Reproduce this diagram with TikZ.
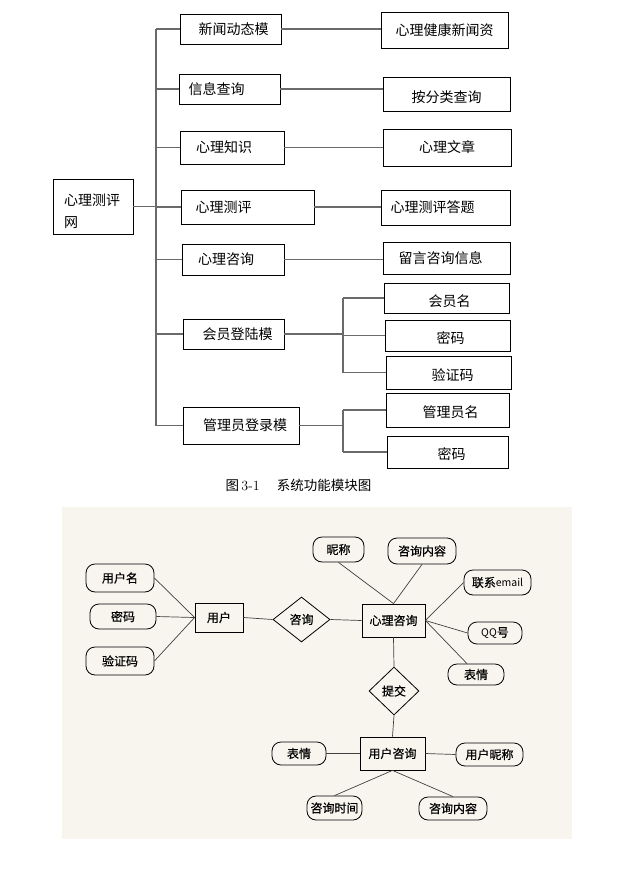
\documentclass[tikz,border=0pt]{standalone}
\usepackage{fontspec}
\newfontfamily\cjk{Noto Sans CJK SC}
\newfontfamily\cjkbold[FakeBold=0.6]{Noto Sans CJK SC}
\usepackage{xcolor}
\usepackage{tikz}
\usetikzlibrary{positioning,shapes.geometric}

\definecolor{erback}{HTML}{F8F5EE}
\definecolor{linegray}{HTML}{6A6A6A}

\tikzset{
	modbox/.style={draw, line width=0.9pt, inner sep=0pt},
	modtext/.style={font=\cjk\fontsize{14}{22}\selectfont, inner sep=0pt, align=left},
	tree/.style={draw=linegray, line width=1.2pt},
	entity/.style={draw, line width=0.8pt, inner sep=0pt, font=\cjkbold\fontsize{12}{14}\selectfont},
	attrib/.style={entity, rounded corners=9pt},
	relation/.style={entity, diamond},
	erline/.style={draw=black!75, line width=0.7pt}
}

% box with its own size, text shifted inside
\newcommand{\modnode}[7]{%
	\node[modbox, minimum width=#4, minimum height=#5,
		label={[modtext,#6]center:#7}] (#1) at (#2,#3) {};}

\begin{document}
\begin{tikzpicture}[x=1pt,y=-1pt]
	\useasboundingbox (0,0) rectangle (624,889);
	
	% module tree
	\modnode{root}{93}{206.5}{80}{55}{xshift=-1,yshift=-5}{心理测评\\网}
	\modnode{news}{230.5}{29}{101}{30}{xshift=3}{新闻动态模}
	\modnode{search}{229.5}{89}{101}{30}{xshift=-13}{信息查询}
	\modnode{know}{232}{147.5}{104}{33}{xshift=-8}{心理知识}
	\modnode{test}{247.5}{207}{133}{34}{xshift=-24}{心理测评}
	\modnode{consult}{233}{259.5}{102}{31}{xshift=-7}{心理咨询}
	\modnode{member}{233.5}{334}{101}{30}{xshift=4}{会员登陆模}
	\modnode{admin}{241}{425.5}{116}{37}{xshift=4}{管理员登录模}
	
	\modnode{newsinfo}{444.5}{30}{127}{36}{}{心理健康新闻资}
	\modnode{bytype}{446.5}{94}{127}{34}{yshift=-3}{按分类查询}
	\modnode{article}{447}{147.5}{128}{37}{}{心理文章}
	\modnode{answer}{445.5}{207.5}{129}{35}{xshift=-13}{心理测评答题}
	\modnode{message}{446.5}{258}{127}{32}{xshift=-6}{留言咨询信息}
	\modnode{mname}{446.5}{298}{125}{30}{xshift=3,yshift=-3}{会员名}
	\modnode{mpwd}{447.5}{335.5}{125}{31}{xshift=3,yshift=-3}{密码}
	\modnode{mcode}{448.5}{372.5}{125}{33}{xshift=4,yshift=-3}{验证码}
	\modnode{aname}{447.5}{410}{123}{34}{xshift=3,yshift=-2}{管理员名}
	\modnode{apwd}{447.5}{452}{121}{32}{xshift=4,yshift=-2}{密码}
	
	\coordinate (trunk) at (156,0);
	\coordinate (subtrunk) at (343,0);
	
	% trunk and branches
	\draw[tree] (root.east) -- (root.east -| trunk);
	\draw[tree] (news.west -| trunk) -- (admin.west -| trunk);
	\foreach \m in {news,search,know,test,consult,member,admin}
		\draw[tree] (\m.west -| trunk) -- (\m.west);
	
	% second level
	\draw[tree] (news.east) -- (news.east -| newsinfo.west);
	\draw[tree] (search.east) -- (search.east -| bytype.west);
	\draw[tree] (know.east) -- (know.east -| article.west);
	\draw[tree] (test.east) -- (test.east -| answer.west);
	\draw[tree] (consult.east) -- (consult.east -| message.west);
	
	\draw[tree] (member.east) -- (member.east -| subtrunk);
	\draw[tree] (mname.west -| subtrunk) -- (mcode.west -| subtrunk);
	\foreach \m in {mname,mpwd,mcode}
		\draw[tree] (\m.west -| subtrunk) -- (\m.west);
	
	\draw[tree] (admin.east) -- (admin.east -| subtrunk);
	\draw[tree] (aname.west -| subtrunk) -- (apwd.west -| subtrunk);
	\foreach \m in {aname,apwd}
		\draw[tree] (\m.west -| subtrunk) -- (\m.west);
	
	\node[font=\cjk\fontsize{13.5}{15}\selectfont, inner sep=0pt] (caption) at (298.5,485)
		{图\,{\rmfamily\fontsize{14}{15}\selectfont 3-1}\hspace{17pt}系统功能模块图};
	
	% E-R diagram
	\fill[erback] (62,507) rectangle (572,839);
	
	\node[attrib, minimum width=68, minimum height=28] (uname) at (120,578) {用户名};
	\node[attrib, minimum width=66, minimum height=25] (upwd) at (123,616.5) {密码};
	\node[attrib, minimum width=68, minimum height=28] (ucode) at (120,661) {验证码};
	\node[entity, minimum width=48, minimum height=29] (user) at (219,617.5) {用户};
	\node[relation, minimum width=57, minimum height=45] (ask) at (301.5,619.5) {咨询};
	
	\node[entity, minimum width=63, minimum height=33] (psy) at (393.5,620.5) {心理咨询};
	\node[attrib, minimum width=51, minimum height=25] (nick) at (338.5,549.5) {昵称};
	\node[attrib, minimum width=68, minimum height=26] (pcontent) at (422,551) {咨询内容};
	\node[attrib, minimum width=67, minimum height=25] (email) at (497.5,582.5)
		{联系{\cjk\fontsize{10.5}{12}\selectfont email}};
	\node[attrib, minimum width=54, minimum height=22] (qq) at (495,633)
		{{\cjk\fontsize{10.5}{12}\selectfont QQ}号};
	\node[attrib, minimum width=56, minimum height=21] (mood) at (476,674.5) {表情};
	
	\node[relation, minimum width=50, minimum height=48] (submit) at (394,691) {提交};
	
	\node[entity, minimum width=65, minimum height=33] (uask) at (392.5,753.5) {用户咨询};
	\node[attrib, minimum width=54, minimum height=23] (umood) at (299,753.5) {表情};
	\node[attrib, minimum width=67, minimum height=23] (unick) at (489.5,754.5) {用户昵称};
	\node[attrib, minimum width=55, minimum height=24] (utime) at (334.5,808) {咨询时间};
	\node[attrib, minimum width=68, minimum height=23] (ucontent) at (453,808.5) {咨询内容};
	
	\foreach \a in {uname,upwd,ucode}
		\draw[erline] (\a.east) -- (user.west);
	\draw[erline] (user.east) -- (ask.west);
	\draw[erline] (ask.east) -- (psy.west);
	\draw[erline] (nick.south) -- (psy.north);
	\draw[erline] (pcontent.south) -- (psy.north);
	\draw[erline] (email.west) -- (psy.east);
	\draw[erline] (qq.west) -- (psy.east);
	\draw[erline] ([xshift=-9pt]mood.north) -- (psy.east);
	\draw[erline] (psy.south) -- (submit.north);
	\draw[erline] (submit.south) -- (uask.north);
	\draw[erline] (umood.east) -- (uask.west);
	\draw[erline] (uask.east) -- (unick.west);
	\draw[erline] (uask.south) -- (utime.north);
	\draw[erline] (uask.south) -- (ucontent.north);
\end{tikzpicture}
\end{document}
